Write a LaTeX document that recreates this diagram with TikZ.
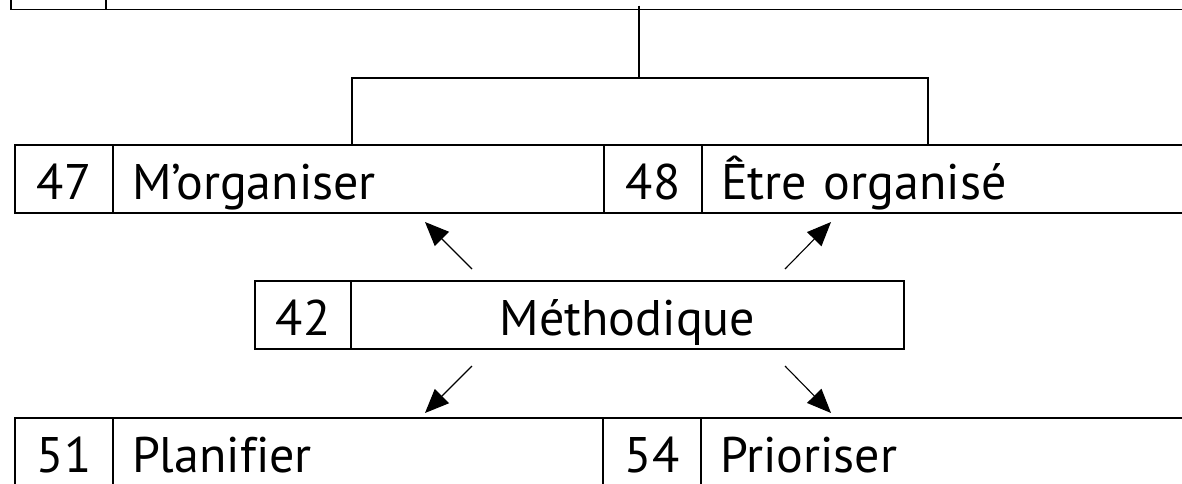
\documentclass[tikz,border=0pt]{standalone}
\usepackage{fontspec}
\setmainfont{PT Sans}[Ligatures=CommonOff]
\usetikzlibrary{arrows.meta}

\tikzset{
  cell/.style={draw, line width=0.85pt, minimum height=34pt, inner ysep=0pt,
    text height=20pt, text depth=0pt, outer sep=0pt,
    anchor=north west, font=\fontsize{25}{29}\selectfont},
  numcell/.style={cell, minimum width=#1, inner xsep=0pt},
  txtcell/.style={cell, text width=#1, align=left, inner xsep=9.5pt},
  midcell/.style={cell, text width=#1, align=center, inner xsep=9.5pt},
  link/.style={line width=0.65pt},
  arr/.style={line width=0.55pt, -{Triangle[length=12pt,width=10pt]}}
}

\begin{document}
\begin{tikzpicture}[x=0.5pt,y=-0.5pt] % grille de compétences
  \clip (0,0) rectangle (1182,483);

  \coordinate (T) at (10.7,-58.5);
  \coordinate (R2) at (15,145);
  \coordinate (R3) at (15,418);
  \coordinate (M) at (255,281);

  % rangée du haut (coupée)
  \node[numcell=47.6pt] (n0) at (T) {};
  \node[txtcell=600pt] (t0) at (n0.north east) {};

  % rangée 2
  \node[numcell=49pt] (n47) at (R2) {47};
  \node[txtcell=226.5pt] (t47) at (n47.north east) {M’organiser};
  \node[numcell=49pt] (n48) at (t47.north east) {48};
  \node[txtcell=226.5pt] (t48) at (n48.north east) {Être organisé};

  % case centrale
  \node[numcell=48pt] (n42) at (M) {42};
  \node[midcell=257.5pt] (t42) at (n42.north east) {Méthodique};

  % rangée 3
  \node[numcell=49pt] (n51) at (R3) {51};
  \node[txtcell=226pt] (t51) at (n51.north east) {Planifier};
  \node[numcell=49pt] (n54) at (t51.north east) {54};
  \node[txtcell=226.5pt] (t54) at (n54.north east) {Prioriser};

  % liaison vers le haut
  \coordinate (split) at (639,78);
  \coordinate (dropL) at (352,78);
  \coordinate (dropR) at (928,78);
  \draw[link, shorten <=-2pt] (t0.south -| split) -- (split);
  \draw[link] (dropL |- t47.north) -- (dropL) -- (dropR) -- (dropR |- t48.north);

  % flèches
  \coordinate (ulS) at (472,269);
  \coordinate (ulE) at (425,222);
  \coordinate (urS) at (785,269);
  \coordinate (urE) at (831,222);
  \coordinate (dlS) at (472,366);
  \coordinate (dlE) at (425,413);
  \coordinate (drS) at (785,366);
  \coordinate (drE) at (831,413);

  \draw[arr] (ulS) -- (ulE);
  \draw[arr] (urS) -- (urE);
  \draw[arr] (dlS) -- (dlE);
  \draw[arr] (drS) -- (drE);
\end{tikzpicture}
\end{document}
